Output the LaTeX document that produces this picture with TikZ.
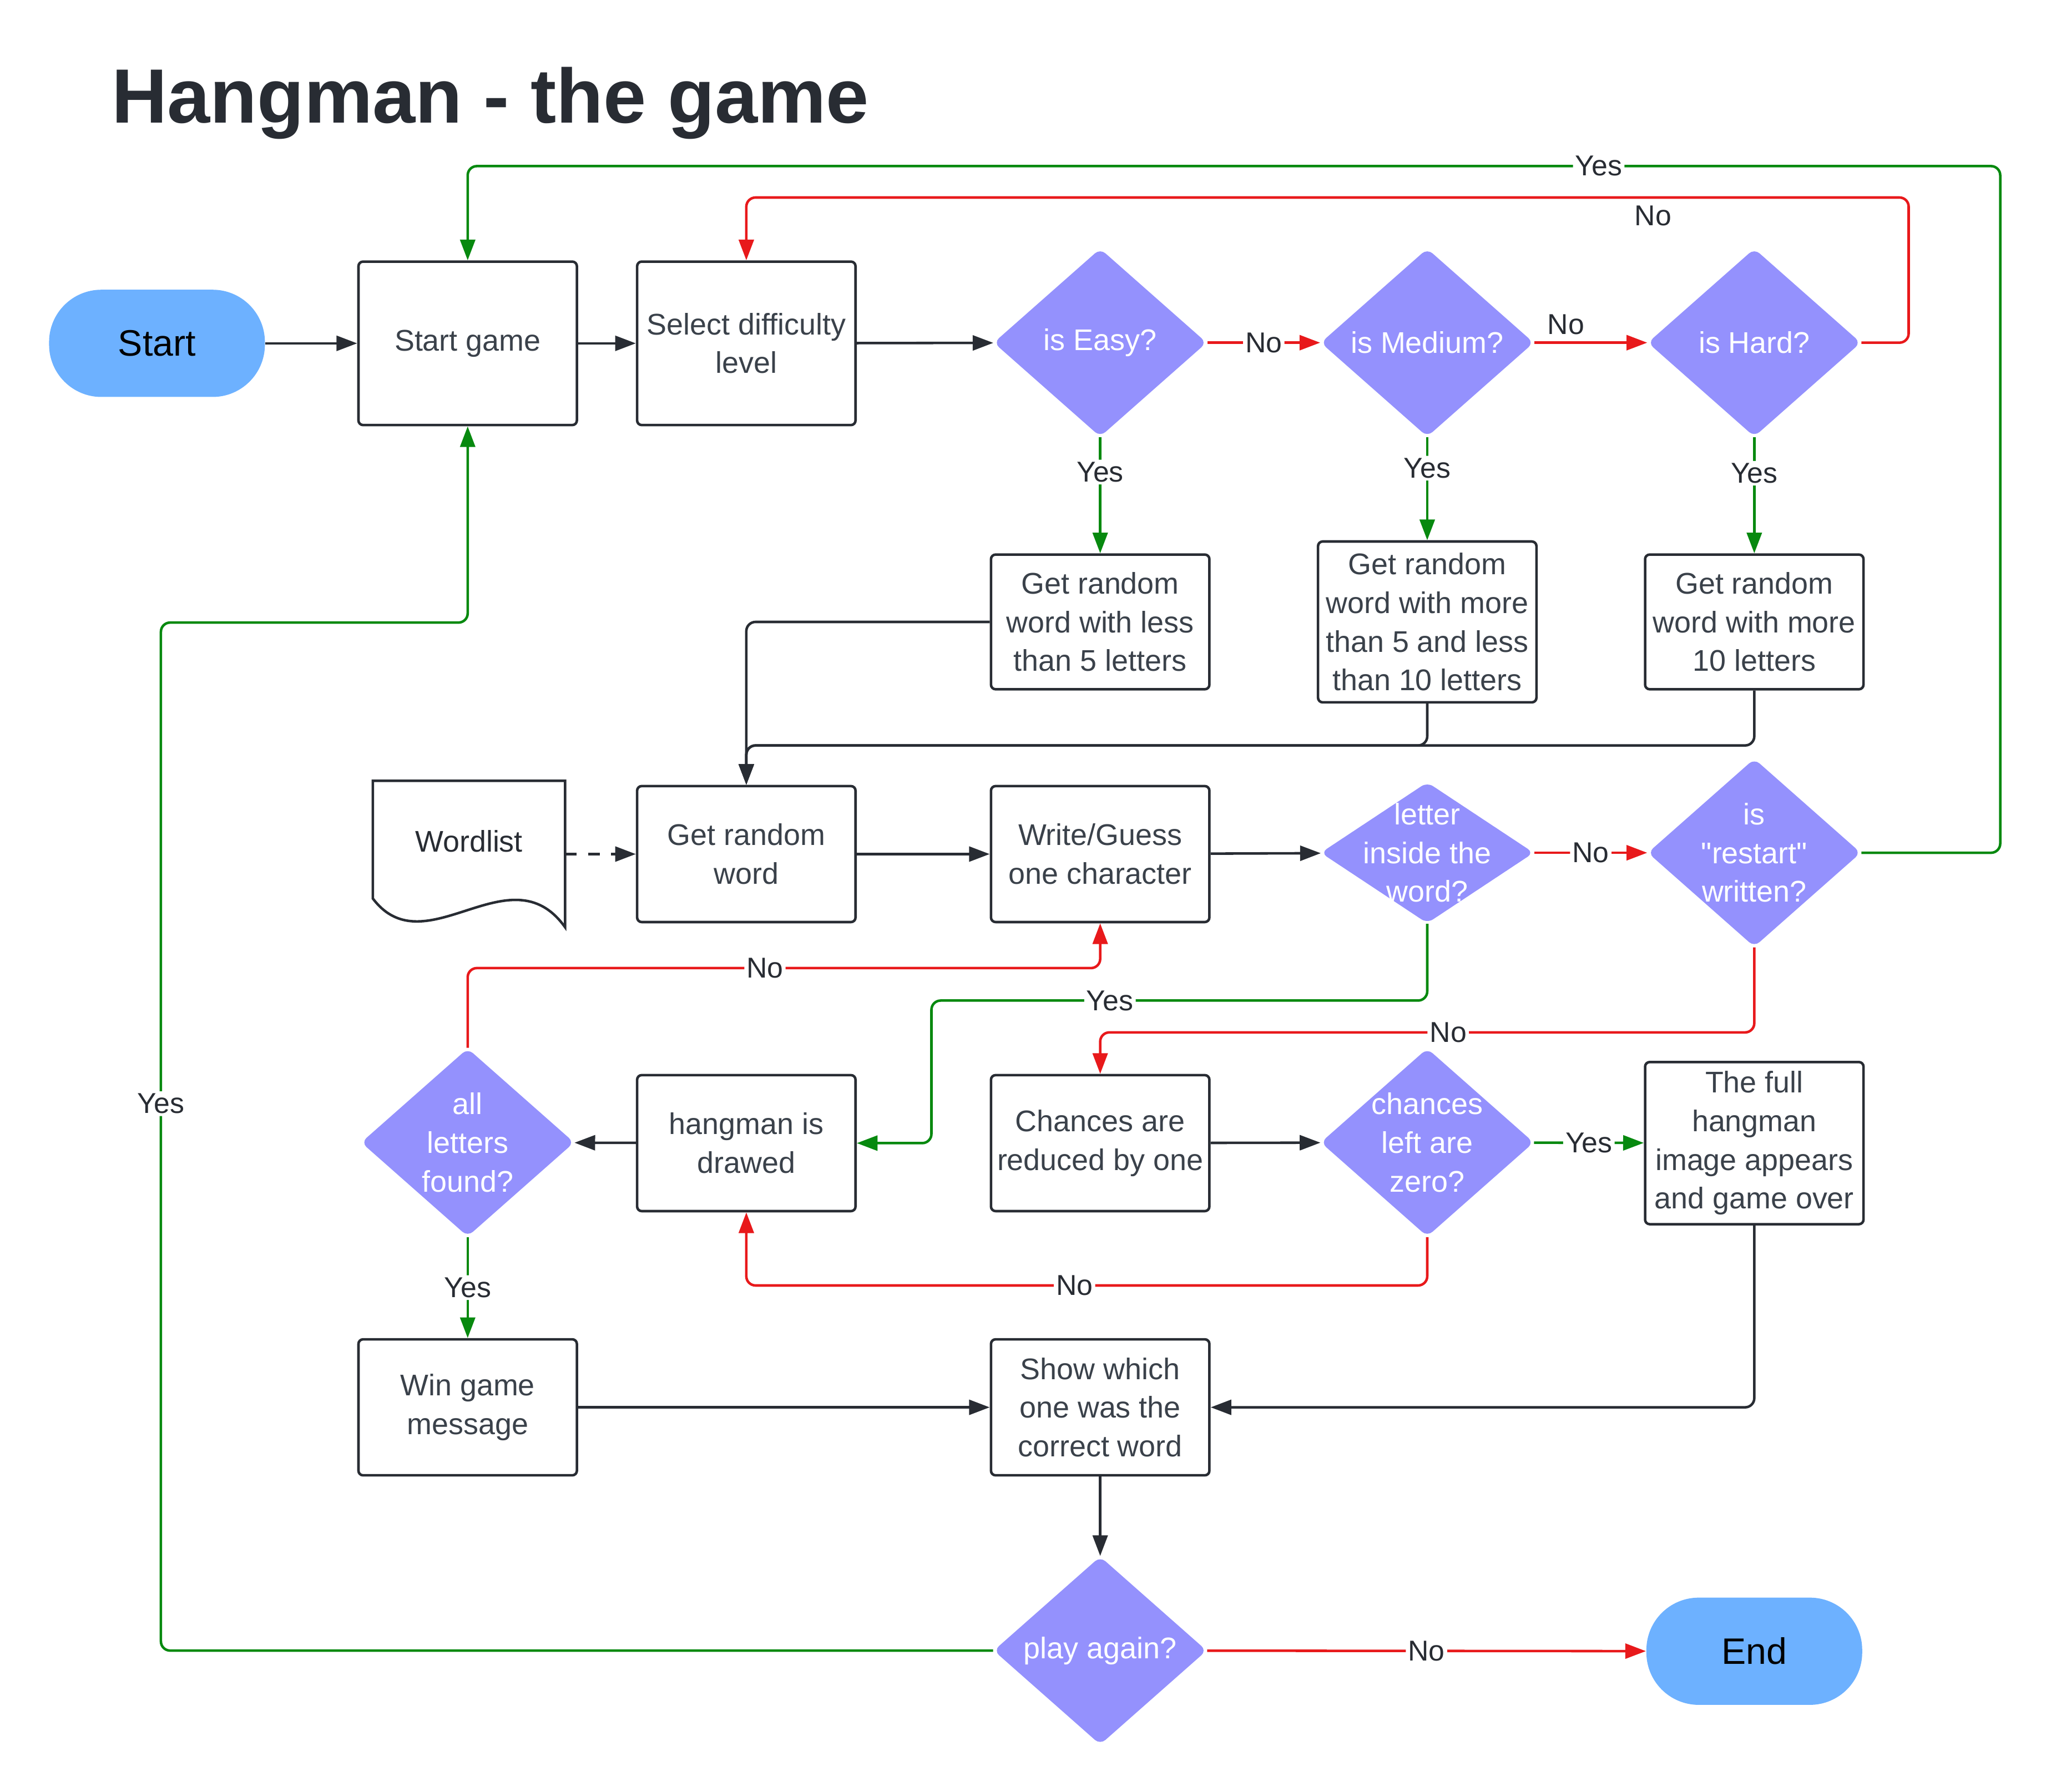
\documentclass[tikz,border=0pt]{standalone}
\usepackage{fontspec}
\setmainfont{Liberation Sans}
\usetikzlibrary{shapes.geometric}
\usetikzlibrary{arrows.meta}
\definecolor{ink}{HTML}{282C33}
\definecolor{boxink}{HTML}{3A414A}
\definecolor{dfill}{HTML}{9491FD}
\definecolor{tfill}{HTML}{6DB1FF}
\definecolor{okgreen}{HTML}{07890F}
\definecolor{nored}{HTML}{E8191B}
\newcommand{\boxfont}{\fontsize{13pt}{16.8pt}\selectfont}
\newcommand{\tagfont}{\fontsize{12.5pt}{15pt}\selectfont}
\newcommand{\termfont}{\fontsize{16pt}{19pt}\selectfont}
\newcommand{\titlefont}{\fontsize{33.5pt}{40pt}\selectfont\bfseries}

\begin{document}
\begin{tikzpicture}[x=0.02cm, y=-0.02cm,
    box/.style={draw=ink, line width=1.1pt, rounded corners=2pt, fill=white,
      align=center, text=boxink, font=\boxfont, minimum width=3.34cm, inner sep=2pt},
    decide/.style={diamond, fill=dfill, minimum width=3.26cm, minimum height=2.88cm,
      inner sep=0pt, rounded corners=3pt,
      label={[text=white, align=center, font=\boxfont]center:{#1}}},
    term/.style={fill=tfill, rounded corners=0.8cm, minimum width=3.3cm,
      minimum height=1.64cm, font=\termfont, text=black},
    flow/.style={draw=ink, line width=1.1pt, rounded corners=4pt,
      -{Triangle[length=9pt, width=6.5pt]}},
    yesline/.style={flow, draw=okgreen},
    noline/.style={flow, draw=nored},
    tag/.style={fill=white, inner sep=1pt, font=\tagfont, text=ink}]
  \useasboundingbox (0,0) rectangle (1564,1370);

  \node[anchor=base west, font=\titlefont, text=ink, inner sep=0pt] (title) at (85,94) {Hangman - the game};

  % first row
  \node[term] (start) at (120,262.5) {Start};
  \node[box, minimum height=2.5cm] (startgame) at (357.5,262.5) {Start game};
  \node[box, minimum height=2.5cm] (select) at (570.5,262.5) {Select difficulty\\level};
  \node[decide={is Easy?}] (easy) at (841,262) {};
  \node[decide={is Medium?}] (medium) at (1091,262) {};
  \node[decide={is Hard?}] (hard) at (1341,262) {};

  \node[box, minimum height=2.06cm] (easybox) at (841,475.5) {Get random\\word with less\\than 5 letters};
  \node[box, minimum height=2.46cm] (medbox) at (1091,475.5) {Get random\\word with more\\than 5 and less\\than 10 letters};
  \node[box, minimum height=2.06cm] (hardbox) at (1341,475.5) {Get random\\word with more\\10 letters};

  % guessing
  \node[minimum width=2.94cm, minimum height=2.24cm, outer sep=0pt,
    label={[yshift=0.2cm, font=\boxfont, text=ink]center:Wordlist}] (wordlist) at (358.5,653) {};
  \draw[ink, line width=1.1pt] (wordlist.north west) -- (wordlist.north east) -- (wordlist.south east)
    .. controls ++(-42,-59) and ++(40,53) .. ([yshift=0.44cm]wordlist.south west) -- cycle;
  \node[box, minimum height=2.08cm] (getword) at (570.5,653) {Get random\\word};
  \node[box, minimum height=2.08cm] (write) at (841,653) {Write/Guess\\one character};
  \node[decide={letter\\inside the\\word?}, minimum height=2.16cm] (letter) at (1091,652) {};
  \node[decide={is\\\textquotedbl restart\textquotedbl\\written?}] (restart) at (1341,652) {};

  \node[decide={all\\letters\\found?}] (found) at (357.5,873.5) {};
  \node[box, minimum height=2.08cm] (hangman) at (570.5,874) {hangman is\\drawed};
  \node[box, minimum height=2.08cm] (chances) at (841,874) {Chances are\\reduced by one};
  \node[decide={chances\\left are\\zero?}] (zero) at (1091,873.5) {};
  \node[box, minimum height=2.48cm] (full) at (1341,874) {The full\\hangman\\image appears\\and game over};

  % ending
  \node[box, minimum height=2.08cm] (win) at (357.5,1076) {Win game\\message};
  \node[box, minimum height=2.08cm] (show) at (841,1076) {Show which\\one was the\\correct word};
  \node[decide={play again?}] (again) at (841,1262) {};
  \node[term] (finish) at (1341,1262.5) {End};

  \coordinate (hardloop) at (1459,151);
  \coordinate (restartloop) at (1529,127);
  \coordinate (letterturn) at (712,765);
  \coordinate (againloop) at (123,476);

  \draw[flow] (start) -- (startgame);
  \draw[flow] (startgame) -- (select);
  \draw[flow] (select) -- (easy);
  \draw[noline] (easy) -- node[tag]{No} (medium);
  \draw[noline] (medium) -- node[tag, pos=0.28, above=2pt, fill=none]{No} (hard);
  \draw[noline] (hard.east) -| (hardloop) -| node[tag, pos=0.11, below=2pt, fill=none]{No} (select.north);
  \draw[yesline] (easy) -- node[tag, pos=0.3]{Yes} (easybox);
  \draw[yesline] (medium) -- node[tag, pos=0.3]{Yes} (medbox);
  \draw[yesline] (hard) -- node[tag, pos=0.31]{Yes} (hardbox);
  \draw[flow] (easybox.west) -| (getword.north);
  \draw[flow] (medbox.south) -- ++(0,32) -| (getword.north);
  \draw[flow] (hardbox.south) -- ++(0,42) -| (getword.north);

  \draw[flow, dash pattern=on 5pt off 5pt] (wordlist.east) -- (getword.west);
  \draw[flow] (getword) -- (write);
  \draw[flow] (write) -- (letter);
  \draw[noline] (letter) -- node[tag]{No} (restart);
  \draw[yesline] (restart.east) -| (restartloop) -| node[tag, pos=0.131]{Yes} (startgame.north);
  \draw[yesline] (letter.south) |- node[tag, pos=0.82]{Yes} (letterturn) |- (hangman.east);
  \draw[noline] (restart.south) -- ++(0,65) -| node[tag, pos=0.234]{No} (chances.north);
  \draw[flow] (chances) -- (zero);
  \draw[yesline] (zero) -- node[tag]{Yes} (full);
  \draw[noline] (zero.south) -- ++(0,37) -| node[tag, pos=0.259]{No} (hangman.south);
  \draw[flow] (hangman) -- (found);
  \draw[noline] (found.north) -- ++(0,-61) -| node[tag, pos=0.235]{No} (write.south);
  \draw[yesline] (found) -- node[tag]{Yes} (win);

  \draw[flow] (win) -- (show);
  \draw[flow] (full.south) |- (show.east);
  \draw[flow] (show) -- (again);
  \draw[noline] (again) -- node[tag]{No} (finish);
  \draw[yesline] (again.west) -| node[tag, pos=0.766]{Yes} (againloop) -| (startgame.south);
\end{tikzpicture}
\end{document}
